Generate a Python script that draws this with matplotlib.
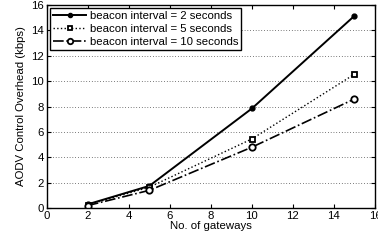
import matplotlib
matplotlib.use("Agg")
import matplotlib.pyplot as plt

gateways = [2, 5, 10, 15]
beacon_2 = [0.3, 1.75, 7.85, 15.15]
beacon_5 = [0.25, 1.65, 5.45, 10.55]
beacon_10 = [0.2, 1.4, 4.8, 8.6]
labels = ["beacon interval = 2 seconds", "beacon interval = 5 seconds", "beacon interval = 10 seconds"]
xticks = list(range(0, 17, 2))
yticks = list(range(0, 17, 2))

plt.rcParams['font.family'] = ['Liberation Sans', 'DejaVu Sans']
fs = 8.2
fig = plt.figure(figsize=(3.78, 2.4), dpi=100)
ax = fig.add_axes([0.124, 0.133, 0.868, 0.846])

ax.plot(gateways, beacon_2, '-', color='black', marker='.', markersize=7, linewidth=1.4, label=labels[0])
ax.plot(gateways, beacon_5, ':', color='black', marker='s', markersize=3.6, markerfacecolor='white',
        markeredgewidth=1.3, linewidth=1.0, label=labels[1])
ax.plot(gateways, beacon_10, '-.', color='black', marker='o', markersize=4.6, markerfacecolor='white',
        markeredgewidth=1.3, linewidth=1.2, label=labels[2])

ax.set_xlim(0, 16)
ax.set_ylim(0, 16)
ax.set_xticks(xticks)
ax.set_yticks(yticks)
ax.yaxis.grid(True, linestyle=(0, (1, 3)), color='black', linewidth=0.5)
ax.tick_params(direction='in', top=True, right=True, labelsize=fs, length=3, pad=2)
for s in ax.spines.values():
    s.set_linewidth(1.0)
ax.set_xlabel("No. of gateways", fontsize=fs, labelpad=0)
ax.set_ylabel("AODV Control Overhead (kbps)", fontsize=fs, labelpad=4)
leg = ax.legend(loc='upper left', fontsize=fs, frameon=True, fancybox=False, edgecolor='black',
                framealpha=1, borderpad=0.25, labelspacing=0.25, handlelength=2.9, borderaxespad=0.3,
                handletextpad=0.3, markerscale=0.85)
leg.get_frame().set_linewidth(1.0)

fig.savefig("out.png", dpi=100)
